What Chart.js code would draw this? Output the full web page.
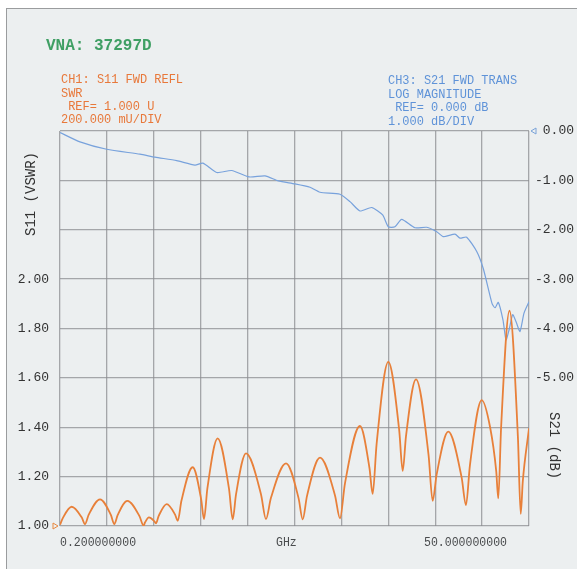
<!DOCTYPE html>
<html>
<head>
<meta charset="utf-8">
<script src="https://cdn.jsdelivr.net/npm/chart.js@4/dist/chart.umd.min.js"></script>
<style>
  html, body { margin: 0; padding: 0; background: #ffffff; }
  #wrap { position: relative; width: 577px; height: 569px; overflow: hidden; background: #ffffff; }
  #panel { position: absolute; left: 6px; top: 8px; width: 580px; height: 570px;
           background: #eceff0; border-left: 1.5px solid #9a9c9e; border-top: 1.5px solid #9a9c9e; }
  canvas { position: absolute; left: 0; top: 0; }
  .t { position: absolute; white-space: pre; font-family: "Liberation Mono", "DejaVu Sans Mono", monospace;
       transform-origin: 0 0; line-height: 1; }
  .ch1 { color: #e8783a; font-size: 13px; transform: scaleX(0.92); }
  .ch3 { color: #5f93d8; font-size: 13px; transform: scaleX(0.92); }
  .vna { color: #3f9f64; font-size: 16px; font-weight: bold; }
  .xl { color: #4a4c4e; font-size: 12px; transform: scaleX(0.96); }
  .ttl { color: #333; font-size: 14px; }
</style>
</head>
<body>
<div id="wrap">
  <div id="panel"></div>
  <canvas id="c" width="577" height="569"></canvas>
  <div class="t vna" style="left:46px;top:38px;">VNA: 37297D</div>
  <div class="t ch1" style="left:61px;top:73px;">CH1: S11 FWD REFL</div>
  <div class="t ch1" style="left:61px;top:87px;">SWR</div>
  <div class="t ch1" style="left:61px;top:100px;"> REF= 1.000 U</div>
  <div class="t ch1" style="left:61px;top:113px;">200.000 mU/DIV</div>
  <div class="t ch3" style="left:388px;top:74px;">CH3: S21 FWD TRANS</div>
  <div class="t ch3" style="left:388px;top:88px;">LOG MAGNITUDE</div>
  <div class="t ch3" style="left:388px;top:101px;"> REF= 0.000 dB</div>
  <div class="t ch3" style="left:388px;top:115px;">1.000 dB/DIV</div>
  <div class="t xl" style="left:60px;top:537px;">0.200000000</div>
  <div class="t xl" style="left:276px;top:537px;">GHz</div>
  <div class="t xl" style="left:424px;top:537px;">50.000000000</div>
  <div class="t ttl" style="left:24px;top:236px;transform:rotate(-90deg);">S11 (VSWR)</div>
  <div class="t ttl" style="left:561px;top:412px;transform:rotate(90deg);">S21 (dB)</div>
</div>
<script>
// Sweep span, GHz
const startGHz = 0.2;
const stopGHz = 50.0;

// CH1: S11 forward reflection, VSWR (ripple with sharp minima)
const s11Freq = [0.20, 0.51, 1.44, 2.50, 2.85, 3.25, 4.45, 5.59, 5.97, 6.32, 7.35, 8.65, 9.08, 9.22, 9.65,
                 10.20, 10.39, 10.68, 11.53, 12.41, 12.70, 13.10, 14.29, 15.19, 15.49, 15.85, 16.94,
                 18.14, 18.54, 18.89, 19.95, 21.54, 22.07, 22.60, 24.20, 25.53, 25.97, 26.43, 27.81,
                 29.40, 29.93, 30.46, 32.05, 33.06, 33.40, 33.82, 35.06, 36.21, 36.59, 36.94, 38.00,
                 39.33, 39.77, 40.19, 41.43, 42.84, 43.31, 43.73, 44.98, 45.86, 46.52, 46.74, 47.04,
                 47.93, 48.82, 49.12, 49.34, 50.00];
const s11Vswr = [1.005, 1.033, 1.078, 1.035, 1.008, 1.046, 1.108, 1.046, 1.008, 1.044, 1.102, 1.039, 1.001, 1.014, 1.035,
                 1.020, 1.011, 1.041, 1.089, 1.047, 1.021, 1.103, 1.238, 1.108, 1.028, 1.152, 1.355,
                 1.152, 1.027, 1.128, 1.294, 1.129, 1.028, 1.114, 1.254, 1.113, 1.027, 1.122, 1.277,
                 1.124, 1.031, 1.173, 1.405, 1.235, 1.130, 1.333, 1.665, 1.391, 1.223, 1.364, 1.594,
                 1.289, 1.102, 1.208, 1.382, 1.198, 1.085, 1.247, 1.510, 1.402, 1.222, 1.112, 1.401,
                 1.872, 1.362, 1.049, 1.181, 1.396];

// CH3: S21 forward transmission, dB
const s21Freq = [0.20, 2.32, 5.16, 8.69, 10.29, 12.59, 14.53, 15.38, 16.84, 18.43, 20.27, 21.97, 23.38,
                 25.15, 26.75, 27.81, 29.93, 30.99, 32.05, 33.30, 34.46, 35.06, 35.77, 36.48, 37.89,
                 39.14, 40.20, 40.90, 42.14, 42.67, 43.38, 44.45, 45.15, 46.07, 46.39, 46.74, 47.24,
                 47.56, 47.88, 48.27, 48.62, 49.04, 49.47, 50.00];
const s21Db = [-0.03, -0.22, -0.37, -0.47, -0.53, -0.60, -0.69, -0.65, -0.84, -0.80, -0.93, -0.91, -1.01,
               -1.07, -1.14, -1.24, -1.28, -1.43, -1.62, -1.55, -1.70, -1.94, -1.94, -1.79, -1.96,
               -1.95, -2.04, -2.14, -2.09, -2.17, -2.15, -2.44, -2.79, -3.49, -3.58, -3.47, -3.83,
               -4.23, -4.03, -3.72, -3.86, -4.06, -3.69, -3.46];

// Graticule values and tick labels
const vswrGrid = [1.0, 1.2, 1.4, 1.6, 1.8, 2.0, 2.2, 2.4, 2.6];
const vswrLabels = ['1.00', '1.20', '1.40', '1.60', '1.80', '2.00', '', '', ''];
const dbGrid = [0, -1, -2, -3, -4, -5, -6, -7, -8];
const dbLabels = ['0.00', '-1.00', '-2.00', '-3.00', '-4.00', '-5.00', '', '', ''];
const xDivisions = 10;

const xGrid = [];
for (let i = 0; i <= xDivisions; i++) xGrid.push(startGHz + i * (stopGHz - startGHz) / xDivisions);

const tickFont = { family: '"Liberation Mono", "DejaVu Sans Mono", monospace', size: 13 };
const gridColor = 'rgba(140,142,146,0.75)';

// Reference-level markers at the plot edges
const refMarkers = {
  id: 'refMarkers',
  afterDatasetsDraw(chart) {
    const ctx = chart.ctx, a = chart.chartArea;
    const yl = chart.scales.yL.getPixelForValue(1.0);
    const yr = chart.scales.yR.getPixelForValue(0);
    ctx.save();
    ctx.lineWidth = 1;
    ctx.strokeStyle = '#e8883f';
    ctx.beginPath();
    ctx.moveTo(a.left - 7, yl - 3); ctx.lineTo(a.left - 2, yl); ctx.lineTo(a.left - 7, yl + 3); ctx.closePath();
    ctx.stroke();
    ctx.strokeStyle = '#7aa2d8';
    ctx.beginPath();
    ctx.moveTo(a.right + 7, yr - 3); ctx.lineTo(a.right + 2, yr); ctx.lineTo(a.right + 7, yr + 3); ctx.closePath();
    ctx.stroke();
    ctx.restore();
  }
};

new Chart(document.getElementById('c'), {
  type: 'line',
  data: {
    datasets: [
      {
        label: 'S11',
        data: s11Freq.map((f, i) => ({ x: f, y: s11Vswr[i] })),
        yAxisID: 'yL',
        borderColor: '#e8803a',
        borderWidth: 1.8,
        pointRadius: 0,
        cubicInterpolationMode: 'monotone',
        order: 1
      },
      {
        label: 'S21',
        data: s21Freq.map((f, i) => ({ x: f, y: s21Db[i] })),
        yAxisID: 'yR',
        borderColor: '#78a2dc',
        borderWidth: 1.2,
        pointRadius: 0,
        tension: 0.2,
        order: 2
      }
    ]
  },
  options: {
    responsive: false,
    animation: false,
    layout: { padding: { top: 131, left: 0, right: 3, bottom: 0 } },
    plugins: { legend: { display: false }, tooltip: { enabled: false } },
    scales: {
      x: {
        type: 'linear', min: startGHz, max: stopGHz,
        afterBuildTicks: s => { s.ticks = xGrid.map(v => ({ value: v })); },
        afterFit: s => { s.height = 43; },
        ticks: { display: false },
        grid: { color: gridColor, lineWidth: 1.3, drawTicks: false },
        border: { display: false }
      },
      yL: {
        type: 'linear', position: 'left', min: 1.0, max: 2.6,
        afterBuildTicks: s => { s.ticks = vswrGrid.map(v => ({ value: v })); },
        afterFit: s => { s.width = 60; },
        ticks: {
          font: tickFont, color: '#333', padding: 11,
          callback: (v) => { const i = vswrGrid.findIndex(g => Math.abs(g - v) < 1e-6); return i >= 0 ? vswrLabels[i] : ''; }
        },
        grid: { color: gridColor, lineWidth: 1.3, drawTicks: false },
        border: { display: false }
      },
      yR: {
        type: 'linear', position: 'right', min: -8, max: 0,
        afterBuildTicks: s => { s.ticks = dbGrid.map(v => ({ value: v })); },
        afterFit: s => { s.width = 45; },
        ticks: {
          font: tickFont, color: '#333', padding: 3, crossAlign: 'far',
          callback: (v) => { const i = dbGrid.findIndex(g => Math.abs(g - v) < 1e-6); return i >= 0 ? dbLabels[i] : ''; }
        },
        grid: { display: false, drawTicks: false },
        border: { display: false }
      }
    }
  },
  plugins: [refMarkers]
});
</script>
</body>
</html>
